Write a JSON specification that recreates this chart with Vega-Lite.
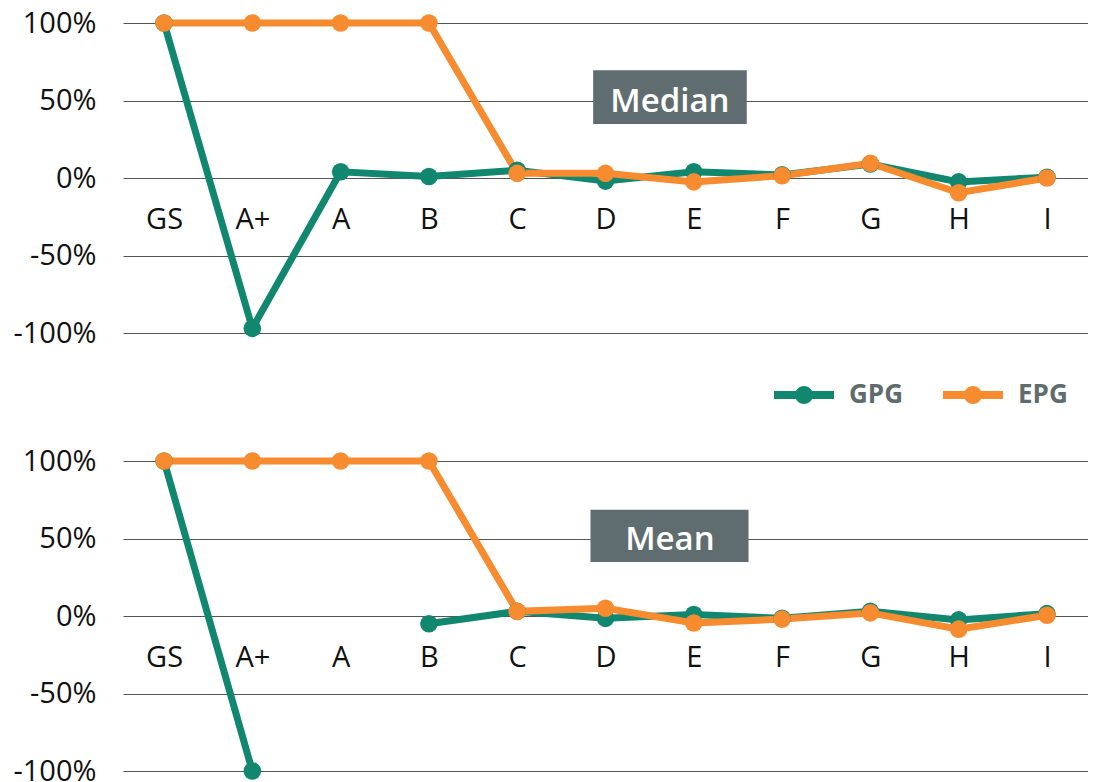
{
  "$schema": "https://vega.github.io/schema/vega-lite/v6.json",
  "background": "white",
  "padding": {"left": 12, "top": 9, "right": 0, "bottom": 0},
  "config": {
    "view": {"stroke": null},
    "font": "Open Sans",
    "legend": {"orient": "none", "legendX": 651, "legendY": 342, "direction": "horizontal", "title": null,
               "symbolType": "M-1,-0.13L1,-0.13L1,0.13L-1,0.13ZM-0.3,0A0.3,0.3 0 1,1 0.3,0A0.3,0.3 0 1,1 -0.3,0Z",
               "symbolSize": 3600, "symbolStrokeWidth": 0, "symbolOpacity": 1,
               "labelFontSize": 26, "labelFontWeight": "bold", "labelColor": "#5f6b6d", "labelOffset": 15, "columnPadding": 40, "padding": 0}
  },
  "datasets": {
    "series": [
      {"stat": "Median", "series": "GPG", "grade": "GS", "value": 100},
      {"stat": "Median", "series": "GPG", "grade": "A+", "value": -97},
      {"stat": "Median", "series": "GPG", "grade": "A", "value": 4},
      {"stat": "Median", "series": "GPG", "grade": "B", "value": 1},
      {"stat": "Median", "series": "GPG", "grade": "C", "value": 5},
      {"stat": "Median", "series": "GPG", "grade": "D", "value": -2},
      {"stat": "Median", "series": "GPG", "grade": "E", "value": 4},
      {"stat": "Median", "series": "GPG", "grade": "F", "value": 2},
      {"stat": "Median", "series": "GPG", "grade": "G", "value": 9},
      {"stat": "Median", "series": "GPG", "grade": "H", "value": -2.5},
      {"stat": "Median", "series": "GPG", "grade": "I", "value": 0.5},
      {"stat": "Median", "series": "EPG", "grade": "GS", "value": 100},
      {"stat": "Median", "series": "EPG", "grade": "A+", "value": 100},
      {"stat": "Median", "series": "EPG", "grade": "A", "value": 100},
      {"stat": "Median", "series": "EPG", "grade": "B", "value": 100},
      {"stat": "Median", "series": "EPG", "grade": "C", "value": 3},
      {"stat": "Median", "series": "EPG", "grade": "D", "value": 3},
      {"stat": "Median", "series": "EPG", "grade": "E", "value": -2.5},
      {"stat": "Median", "series": "EPG", "grade": "F", "value": 1.5},
      {"stat": "Median", "series": "EPG", "grade": "G", "value": 9.5},
      {"stat": "Median", "series": "EPG", "grade": "H", "value": -9.5},
      {"stat": "Median", "series": "EPG", "grade": "I", "value": 0},
      {"stat": "Mean", "series": "GPG", "grade": "GS", "value": 100},
      {"stat": "Mean", "series": "GPG", "grade": "A+", "value": -100},
      {"stat": "Mean", "series": "GPG", "grade": "A", "value": null},
      {"stat": "Mean", "series": "GPG", "grade": "B", "value": -5},
      {"stat": "Mean", "series": "GPG", "grade": "C", "value": 3},
      {"stat": "Mean", "series": "GPG", "grade": "D", "value": -1.5},
      {"stat": "Mean", "series": "GPG", "grade": "E", "value": 1},
      {"stat": "Mean", "series": "GPG", "grade": "F", "value": -1.5},
      {"stat": "Mean", "series": "GPG", "grade": "G", "value": 3},
      {"stat": "Mean", "series": "GPG", "grade": "H", "value": -2.5},
      {"stat": "Mean", "series": "GPG", "grade": "I", "value": 1.5},
      {"stat": "Mean", "series": "EPG", "grade": "GS", "value": 100},
      {"stat": "Mean", "series": "EPG", "grade": "A+", "value": 100},
      {"stat": "Mean", "series": "EPG", "grade": "A", "value": 100},
      {"stat": "Mean", "series": "EPG", "grade": "B", "value": 100},
      {"stat": "Mean", "series": "EPG", "grade": "C", "value": 3},
      {"stat": "Mean", "series": "EPG", "grade": "D", "value": 5},
      {"stat": "Mean", "series": "EPG", "grade": "E", "value": -4.5},
      {"stat": "Mean", "series": "EPG", "grade": "F", "value": -2},
      {"stat": "Mean", "series": "EPG", "grade": "G", "value": 2},
      {"stat": "Mean", "series": "EPG", "grade": "H", "value": -8.5},
      {"stat": "Mean", "series": "EPG", "grade": "I", "value": 0.5}
    ]
  },
  "spacing": 128,
  "bounds": "flush",
  "vconcat": [
    {
      "width": 965,
      "height": 310,
      "layer": [
        {
          "data": {"name": "series"},
          "transform": [{"filter": "datum.stat === 'Median'"}],
          "mark": {"type": "line", "strokeWidth": 7, "invalid": "break-paths-show-domains"},
          "encoding": {
            "x": {"field": "grade", "type": "nominal",
                  "scale": {"type": "point", "padding": 0.465, "domain": ["GS", "A+", "A", "B", "C", "D", "E", "F", "G", "H", "I"]},
                  "axis": {"orient": "bottom", "offset": -155, "title": null, "labelAngle": 0, "domain": false, "ticks": false, "tickSize": 0, "grid": false, "labelPadding": 27, "labelFontSize": 29, "labelFontWeight": 500, "labelColor": "#111111"}},
            "y": {"field": "value", "type": "quantitative",
                  "scale": {"domain": [-100, 100], "nice": false},
                  "axis": {"values": [-100, -50, 0, 50, 100], "labelExpr": "datum.value + '%'", "title": null, "domain": false, "ticks": false, "grid": true, "gridColor": "#555555", "gridWidth": 1.2, "labelPadding": 27, "labelFontSize": 29, "labelFontWeight": 500, "labelColor": "#111111"}},
            "color": {"field": "series", "type": "nominal", "scale": {"domain": ["GPG", "EPG"], "range": ["#12876f", "#f68b2f"]}}
          }
        },
        {
          "data": {"name": "series"},
          "transform": [{"filter": "datum.stat === 'Median' && datum.value != null"}],
          "mark": {"type": "point", "filled": true, "size": 310, "opacity": 1},
          "encoding": {
            "x": {"field": "grade", "type": "nominal", "scale": {"type": "point", "padding": 0.465, "domain": ["GS", "A+", "A", "B", "C", "D", "E", "F", "G", "H", "I"]}, "axis": null},
            "y": {"field": "value", "type": "quantitative"},
            "color": {"field": "series", "type": "nominal", "scale": {"domain": ["GPG", "EPG"], "range": ["#12876f", "#f68b2f"]}}
          }
        },
        {
          "data": {"values": [{"label": "Median"}]},
          "mark": {"type": "rect", "color": "#606d70"},
          "encoding": {
            "x": {"datum": 4.86, "type": "quantitative", "scale": {"domain": [-0.465, 10.465]}, "axis": null},
            "x2": {"datum": 6.6},
            "y": {"datum": 69.5, "type": "quantitative"},
            "y2": {"datum": 34.8}
          }
        },
        {
          "data": {"values": [{"label": "Median"}]},
          "mark": {"type": "text", "color": "white", "fontSize": 33, "fontWeight": 600, "baseline": "alphabetic", "align": "center"},
          "encoding": {
            "x": {"datum": 5.73, "type": "quantitative", "scale": {"domain": [-0.465, 10.465]}, "axis": null},
            "y": {"datum": 42.8, "type": "quantitative"},
            "text": {"field": "label"}
          }
        }
      ],
      "resolve": {"scale": {"x": "independent"}}
    },
    {
      "width": 965,
      "height": 310,
      "layer": [
        {
          "data": {"name": "series"},
          "transform": [{"filter": "datum.stat === 'Mean'"}],
          "mark": {"type": "line", "strokeWidth": 7, "invalid": "break-paths-show-domains"},
          "encoding": {
            "x": {"field": "grade", "type": "nominal",
                  "scale": {"type": "point", "padding": 0.465, "domain": ["GS", "A+", "A", "B", "C", "D", "E", "F", "G", "H", "I"]},
                  "axis": {"orient": "bottom", "offset": -155, "title": null, "labelAngle": 0, "domain": false, "ticks": false, "tickSize": 0, "grid": false, "labelPadding": 27, "labelFontSize": 29, "labelFontWeight": 500, "labelColor": "#111111"}},
            "y": {"field": "value", "type": "quantitative",
                  "scale": {"domain": [-100, 100], "nice": false},
                  "axis": {"values": [-100, -50, 0, 50, 100], "labelExpr": "datum.value + '%'", "title": null, "domain": false, "ticks": false, "grid": true, "gridColor": "#555555", "gridWidth": 1.2, "labelPadding": 27, "labelFontSize": 29, "labelFontWeight": 500, "labelColor": "#111111"}},
            "color": {"field": "series", "type": "nominal", "scale": {"domain": ["GPG", "EPG"], "range": ["#12876f", "#f68b2f"]}}
          }
        },
        {
          "data": {"name": "series"},
          "transform": [{"filter": "datum.stat === 'Mean' && datum.value != null"}],
          "mark": {"type": "point", "filled": true, "size": 310, "opacity": 1},
          "encoding": {
            "x": {"field": "grade", "type": "nominal", "scale": {"type": "point", "padding": 0.465, "domain": ["GS", "A+", "A", "B", "C", "D", "E", "F", "G", "H", "I"]}, "axis": null},
            "y": {"field": "value", "type": "quantitative"},
            "color": {"field": "series", "type": "nominal", "scale": {"domain": ["GPG", "EPG"], "range": ["#12876f", "#f68b2f"]}}
          }
        },
        {
          "data": {"values": [{"label": "Mean"}]},
          "mark": {"type": "rect", "color": "#606d70"},
          "encoding": {
            "x": {"datum": 4.83, "type": "quantitative", "scale": {"domain": [-0.465, 10.465]}, "axis": null},
            "x2": {"datum": 6.62},
            "y": {"datum": 68.5, "type": "quantitative"},
            "y2": {"datum": 34.8}
          }
        },
        {
          "data": {"values": [{"label": "Mean"}]},
          "mark": {"type": "text", "color": "white", "fontSize": 33, "fontWeight": 600, "baseline": "alphabetic", "align": "center"},
          "encoding": {
            "x": {"datum": 5.73, "type": "quantitative", "scale": {"domain": [-0.465, 10.465]}, "axis": null},
            "y": {"datum": 42.3, "type": "quantitative"},
            "text": {"field": "label"}
          }
        }
      ],
      "resolve": {"scale": {"x": "independent"}}
    }
  ]
}
